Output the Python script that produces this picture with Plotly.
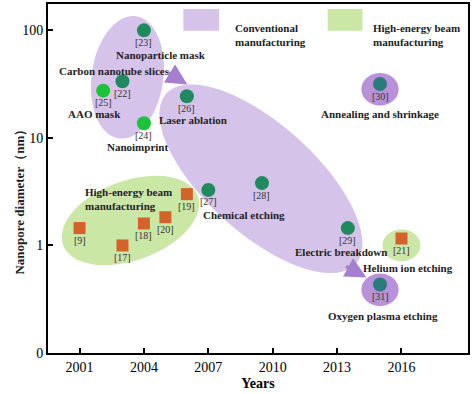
import math
import plotly.graph_objects as go

# ---------------- data ----------------
circle_refs = ["[23]", "[22]", "[25]", "[24]", "[26]", "[27]", "[28]", "[29]", "[30]", "[31]"]
circle_years = [2004, 2003, 2002.1, 2004, 2006, 2007, 2009.5, 2013.5, 2015, 2015]
circle_diam = [100, 33.6, 27.5, 13.7, 24.4, 3.28, 3.8, 1.45, 31.7, 0.434]
circle_kind = ["dark", "dark", "bright", "bright", "dark", "dark", "dark", "dark", "teal", "teal"]

square_refs = ["[9]", "[17]", "[18]", "[20]", "[19]", "[21]"]
square_years = [2001, 2003, 2004, 2005, 2006, 2016]
square_diam = [1.45, 1.0, 1.6, 1.83, 3.0, 1.16]

x_ticks = [2001, 2004, 2007, 2010, 2013, 2016]
y_tick_labels = ["0", "1", "10", "100"]

method_labels = ["Nanoparticle mask", "Carbon nanotube slices", "AAO mask", "Nanoimprint",
                 "Laser ablation", "Annealing and shrinkage", "Chemical etching",
                 "Electric breakdown", "Helium ion etching", "Oxygen plasma etching"]

# ---------------- helpers ----------------
W, H = 472, 394
ML, MR, MT, MB = 48, 2, 2, 41
X0, X1 = 1999.53, 2019.1
Y0, Y1 = 0.0, 3.245
PX_YEAR = (W - ML - MR) / (X1 - X0)
PX_DEC = (H - MT - MB) / (Y1 - Y0)


def ty(d):
    # 0 on the axis corresponds to 0.1 nm (one decade below 1)
    return math.log10(d) + 1


def px2data(px, py):
    return X0 + (px - ML) / PX_YEAR, Y1 - (py - MT) / PX_DEC


def ellipse_path(cx, cy, a, b, ang_deg, n=90):
    th = math.radians(ang_deg)
    pts = []
    for i in range(n):
        t = 2 * math.pi * i / n
        u, v = a * math.cos(t), b * math.sin(t)
        dx = u * math.cos(th) - v * math.sin(th)
        dy = u * math.sin(th) + v * math.cos(th)
        pts.append((cx + dx / PX_YEAR, cy - dy / PX_DEC))
    return "M " + " L ".join(f"{x:.4f},{y:.4f}" for x, y in pts) + " Z"


LAV = "#d6c3ea"
LAV_DARK = "#b891da"
GRN_BG = "#cbe7a6"
ARROW = "#a57fd0"
DARK_G = "#1f8a5e"
BRIGHT_G = "#1cc23a"
TEAL = "#2b7b7d"
ORANGE = "#d4622a"
FONT = "Liberation Serif"
LBL = 11

fig = go.Figure()

shapes = []
# background ellipses (centre in data coords, semi-axes in px, angle in deg)
ells = [
    (2003.23, 2.563, 62, 36, -82, LAV),
    (2009.45, 1.620, 128, 55, 42, LAV),
    (2003.37, 1.232, 72, 40, -20, GRN_BG),
    (2015.0, 2.452, 18.7, 16.3, 0, LAV_DARK),
    (2015.0, 0.588, 18.7, 16.3, 0, LAV_DARK),
    (2016.0, 1.001, 19, 16, 0, GRN_BG),
]
for cx, cy, a, b, ang, col in ells:
    shapes.append(dict(type="path", path=ellipse_path(cx, cy, a, b, ang), xref="x", yref="y",
                       fillcolor=col, line=dict(width=0), layer="below"))

# legend boxes (paper coords)
def pbox(x0, y0, x1, y1):
    return dict(x0=(x0 - ML) / (W - ML - MR), x1=(x1 - ML) / (W - ML - MR),
                y0=(H - MB - y1) / (H - MT - MB), y1=(H - MB - y0) / (H - MT - MB))

shapes.append(dict(type="rect", xref="paper", yref="paper", fillcolor=LAV, line=dict(width=0),
                   **pbox(184, 7, 220, 29)))
shapes.append(dict(type="rect", xref="paper", yref="paper", fillcolor=GRN_BG, line=dict(width=0),
                   **pbox(329, 7, 364, 29)))

kind_col = {"dark": DARK_G, "bright": BRIGHT_G, "teal": TEAL}
fig.add_trace(go.Scatter(
    x=circle_years, y=[ty(d) for d in circle_diam], mode="markers",
    marker=dict(symbol="circle", size=14, color=[kind_col[k] for k in circle_kind], line=dict(width=0)),
    hoverinfo="skip", showlegend=False))
fig.add_trace(go.Scatter(
    x=square_years, y=[ty(d) for d in square_diam], mode="markers",
    marker=dict(symbol="square", size=12, color=ORANGE, line=dict(width=0)),
    hoverinfo="skip", showlegend=False))

ann = []
for r, x, d in zip(circle_refs + square_refs, circle_years + square_years, circle_diam + square_diam):
    ann.append(dict(x=x, y=ty(d), text=r, showarrow=False, yshift=-12,
                    font=dict(family=FONT, size=10, color="#333333")))

# method labels (pixel centres of the text)
label_pos = [(162, 53), (115, 69), (95, 113), (138, 146), (194, 119), (382, 113),
             (245, 214), (342, 251), (410, 268), (385, 316)]
for t, (px, py) in zip(method_labels, label_pos):
    x, y = px2data(px, py)
    ann.append(dict(x=x, y=y, text=f"<b>{t}</b>", showarrow=False,
                    font=dict(family=FONT, size=LBL, color="#222222")))

x, y = px2data(83, 198)
ann.append(dict(x=x, y=y, text="<b>High-energy beam<br>manufacturing</b>", showarrow=False,
                xanchor="left", align="left", font=dict(family=FONT, size=LBL, color="#222222")))

# legend texts
for px, txt in [(234, "Conventional<br>manufacturing"), (373, "High-energy beam<br>manufacturing")]:
    ann.append(dict(xref="paper", yref="paper", x=(px - ML) / (W - ML - MR),
                    y=(H - MB - 18) / (H - MT - MB), text=f"<b>{txt}</b>", showarrow=False,
                    xanchor="left", align="left", font=dict(family=FONT, size=LBL, color="#222222")))

# arrows
for hx, hy, ax, ay in [(188, 83, -21, -13), (368, 277, -22, -12)]:
    x, y = px2data(hx, hy)
    ann.append(dict(x=x, y=y, ax=ax, ay=ay, showarrow=True, arrowhead=2, arrowsize=1.2,
                    arrowwidth=3.5, arrowcolor=ARROW, text=""))

# y title
ann.append(dict(xref="paper", yref="paper", x=(10 - ML) / (W - ML - MR),
                y=(H - MB - 198) / (H - MT - MB), text="<b>Nanopore diameter（nm）</b>",
                textangle=-90, showarrow=False, font=dict(family=FONT, size=13, color="#222222")))

fig.update_layout(
    width=W, height=H, margin=dict(l=ML, r=MR, t=MT, b=MB),
    paper_bgcolor="white", plot_bgcolor="white",
    shapes=shapes, annotations=ann, showlegend=False,
    xaxis=dict(range=[X0, X1], tickvals=x_ticks, ticktext=[str(v) for v in x_ticks],
               ticks="inside", ticklen=5, tickwidth=1.5, tickcolor="black",
               showline=True, linecolor="black", linewidth=2, mirror=True, showgrid=False,
               zeroline=False, tickfont=dict(family=FONT, size=14, color="black"),
               title=dict(text="<b>Years</b>", font=dict(family=FONT, size=14, color="black"),
                          standoff=4)),
    yaxis=dict(range=[Y0, Y1], tickvals=[0, 1, 2, 3], ticktext=y_tick_labels,
               ticks="inside", ticklen=5, tickwidth=1.5, tickcolor="black",
               showline=True, linecolor="black", linewidth=2, mirror=True, showgrid=False,
               zeroline=False, tickfont=dict(family=FONT, size=14, color="black")),
)
fig.update_xaxes(tickprefix="<b>", ticksuffix="</b>")
fig.update_yaxes(tickprefix="<b>", ticksuffix="</b>")

fig.write_html("out.html", config={"displayModeBar": False},
               post_script="document.body.style.margin='0';document.body.style.padding='0';")
